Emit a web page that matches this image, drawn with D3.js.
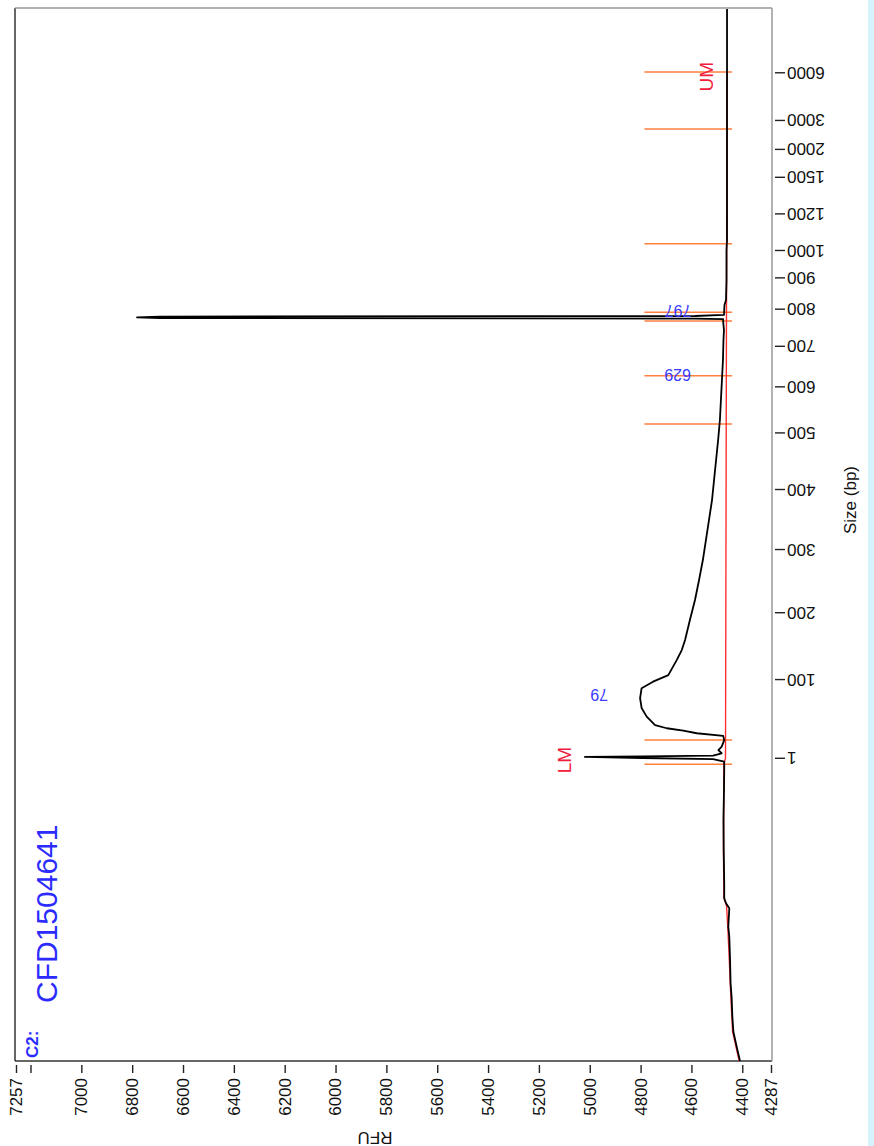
<!DOCTYPE html>
<html><head><meta charset="utf-8">
<script src="https://cdn.jsdelivr.net/npm/d3@7"></script>
<style>
html,body{margin:0;padding:0;background:#fff;}
svg{display:block;font-family:"Liberation Sans",Arial,sans-serif;}
</style></head><body>
<svg id="c" width="874" height="1146"></svg>
<script>
// ---- data (migration time in s, RFU) ----
const ladderSizes = [1,100,200,300,400,500,600,700,800,900,1000,1200,1500,2000,3000,6000];
const ladderTimes = [21.48,24.47,27.01,29.41,31.69,33.84,35.59,37.13,38.54,39.73,40.77,42.16,43.55,44.61,45.71,47.52];
const rfuTicks = [4287,4400,4600,4800,5000,5200,5400,5600,5800,6000,6200,6400,6600,6800,7000,7200,7257];
const rfuHiddenTick = 7200;
const rfuRange = [4287, 7257];
const timeRange = [10, 50];

const traceTime = [10.00,10.54,11.11,11.68,12.44,12.95,13.84,14.72,15.10,15.80,15.99,16.18,16.75,18.02,19.15,20.29,21.05,21.37,
  21.47,21.51,21.55,21.57,21.60,21.69,21.81,21.94,22.19,22.35,22.45,22.55,22.64,22.76,23.08,23.41,23.78,24.16,24.41,24.66,25.23,25.61,
  25.99,26.75,27.51,28.27,29.03,29.79,30.55,31.31,32.07,32.83,33.59,34.35,35.11,35.87,36.25,36.63,37.39,37.77,38.07,38.18,
  38.20,38.22,38.25,38.28,38.30,38.34,38.72,38.91,39.67,40.81,41.19,42.71,44.61,46.51,48.02,49.96];
const traceRFU = [4409,4422,4435,4439,4442,4446,4448,4451,4455,4451,4464,4471,4471,4473,4474,4472,4471,4471,
  4515,4791,5019,4791,4515,4481,4494,4481,4471,4475,4579,4632,4697,4743,4776,4796,4802,4796,4751,4691,4658,4638,
  4625,4606,4586,4570,4555,4543,4531,4519,4511,4503,4495,4488,4484,4480,4478,4476,4474,4472,4475,4475,
  4586,6691,6781,6691,4586,4472,4470,4464,4462,4462,4460,4460,4460,4460,4460,4460];

const baselineTime = [10.00,11.11,12.44,13.84,15.10,15.90,16.20,18.00,21.30,21.50,47.57];
const baselineRFU  = [4412,4438,4445,4451,4457,4462,4472,4474,4472,4466,4460];

const markerTimes = [21.27,22.19,34.20,36.03,38.11,38.44,41.04,45.40,47.57];
const markerRFU = [4440, 4785];

const peakLabels = ["79","629","797"];
const peakTimes = [23.9, 36.06, 38.49];
const peakLevelRFU = [4798, 4472, 4470];

const refLabels = ["LM","UM"];
const refTimes = [21.43, 47.39];
const refApexRFU = [5019, 4460];

const sampleWell = "C2:";
const sampleName = "CFD1504641";

// ---- drawing ----
const svg = d3.select("#c");
svg.append("rect").attr("x",868).attr("y",0).attr("width",6).attr("height",1146).attr("fill","#d6f3fc");

// whole electropherogram is rotated 90° counter-clockwise
const g = svg.append("g").attr("transform","translate(0,1146) rotate(-90)");
const x = d3.scaleLinear().domain(timeRange).range([85,1138]);
const y = d3.scaleLinear().domain(rfuRange).range([771,16]);

// frame
g.append("line").attr("x1",85).attr("x2",1138).attr("y1",15).attr("y2",15).attr("stroke","#333").attr("stroke-width",1.5);
g.append("line").attr("x1",1138).attr("x2",1138).attr("y1",15).attr("y2",772).attr("stroke","#999").attr("stroke-width",1.5);
g.append("line").attr("x1",85).attr("x2",85).attr("y1",15).attr("y2",772).attr("stroke","#333").attr("stroke-width",1.5);
g.append("line").attr("x1",85).attr("x2",1138).attr("y1",772).attr("y2",772).attr("stroke","#999").attr("stroke-width",1.5);

// RFU axis
const axY = d3.axisLeft(y).tickValues(rfuTicks).tickSize(8).tickPadding(5)
  .tickFormat(d => d === rfuHiddenTick ? "" : d);
const gy = g.append("g").attr("transform","translate(81,0)").call(axY);
gy.select(".domain").remove();
gy.selectAll(".tick line").attr("stroke","#222").attr("stroke-width",1.4);
gy.selectAll(".tick text").attr("font-size",17).attr("fill","#111").attr("font-family","'Liberation Sans',Arial,sans-serif");

// size axis
const axX = d3.axisBottom(x).tickValues(ladderTimes).tickFormat((d,i)=>ladderSizes[i]).tickSizeInner(10).tickSizeOuter(0);
const gx = g.append("g").attr("transform","translate(0,775)").call(axX);
gx.select(".domain").remove();
gx.selectAll(".tick line").attr("stroke","#222").attr("stroke-width",1.4);
gx.selectAll(".tick text").attr("x",0).attr("y",0).attr("dy","0.35em")
  .attr("transform","translate(0,12) rotate(-90)").attr("text-anchor","end")
  .attr("font-size",17).attr("fill","#111").attr("font-family","'Liberation Sans',Arial,sans-serif");

// axis titles
g.append("text").attr("transform","translate(8,375) rotate(-90)").attr("dy","0.35em")
  .attr("text-anchor","middle").attr("font-size",17).attr("fill","#111").text("RFU");
g.append("text").attr("x",646).attr("y",856).attr("text-anchor","middle")
  .attr("font-size",17).attr("fill","#111").text("Size (bp)");

// peak boundary markers
g.selectAll("line.mk").data(markerTimes).enter().append("line").attr("class","mk")
  .attr("x1",d=>x(d)).attr("x2",d=>x(d)).attr("y1",y(markerRFU[0])).attr("y2",y(markerRFU[1]))
  .attr("stroke","#ff7f3f").attr("stroke-width",1.5);

// baseline
const line = d3.line().x(d=>x(d[0])).y(d=>y(d[1]));
g.append("path").datum(baselineTime.map((t,i)=>[t,baselineRFU[i]])).attr("d",line)
  .attr("fill","none").attr("stroke","#ff3030").attr("stroke-width",1.4);

// trace
g.append("path").datum(traceTime.map((t,i)=>[t,traceRFU[i]])).attr("d",line)
  .attr("fill","none").attr("stroke","#000").attr("stroke-width",1.8).attr("stroke-linejoin","round");

// peak size labels
peakLabels.forEach((lab,i)=>{
  g.append("text").attr("transform",`translate(${x(peakTimes[i])},${y(peakLevelRFU[i])-33}) rotate(-90)`)
    .attr("dy","0.35em").attr("text-anchor","start").attr("font-size",16).attr("fill","#3a3aff").text(lab);
});
// marker labels
refLabels.forEach((lab,i)=>{
  g.append("text").attr("x",x(refTimes[i])).attr("y",y(refApexRFU[i])-14).attr("text-anchor","middle")
    .attr("font-size",19).attr("fill","#f0203c").text(lab);
});

// sample title
g.append("text").attr("x",88).attr("y",38).attr("font-size",17).attr("font-weight","bold").attr("fill","#2b2bff").text(sampleWell);
g.append("text").attr("x",143).attr("y",57).attr("font-size",30).attr("fill","#2b2bff").text(sampleName);
</script>
</body></html>
